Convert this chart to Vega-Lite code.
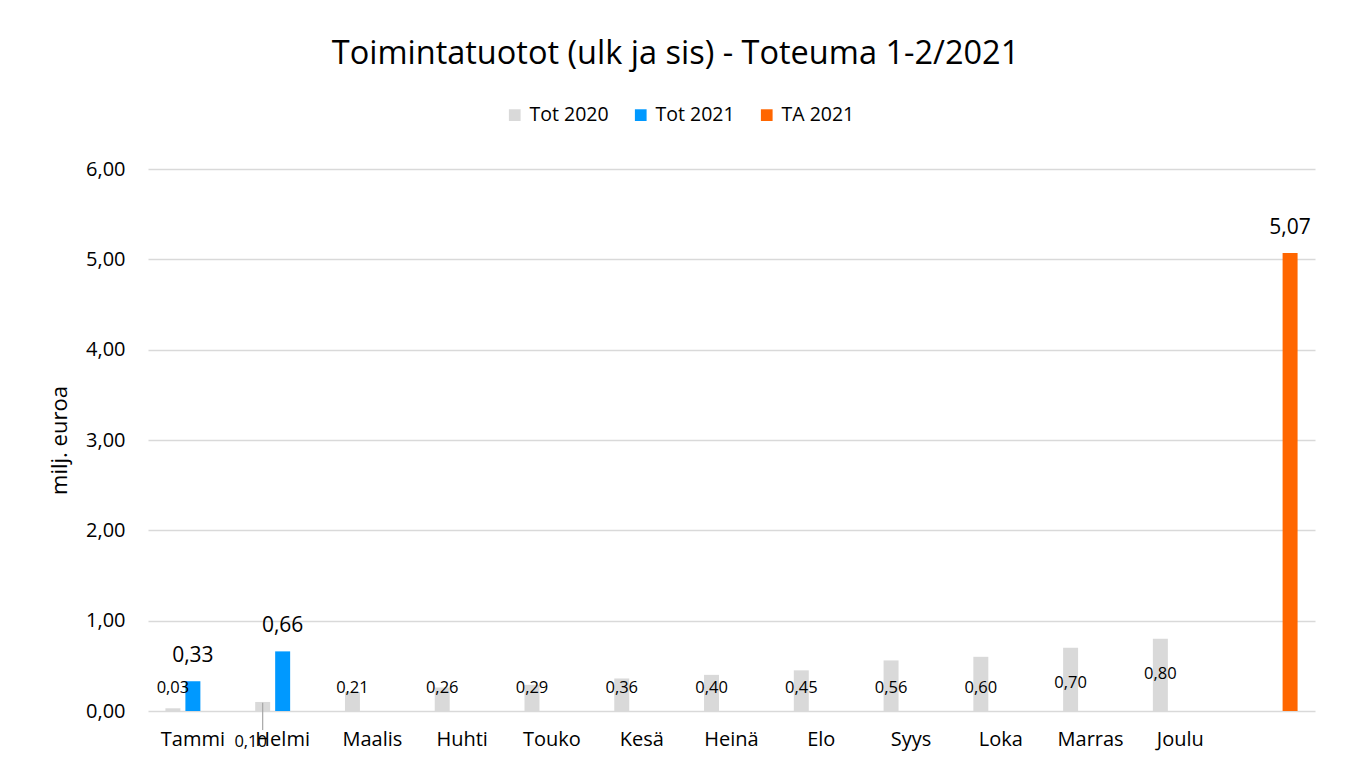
{
  "$schema": "https://vega.github.io/schema/vega-lite/v6.json",
  "width": 1167,
  "height": 542,
  "autosize": {"type": "none"},
  "padding": {"left": 148, "top": 169, "right": 34, "bottom": 56},
  "background": "white",
  "title": {
    "text": "Toimintatuotot (ulk ja sis) - Toteuma 1-2/2021",
    "anchor": "middle",
    "font": "Open Sans",
    "fontSize": 32.5,
    "fontWeight": "normal",
    "color": "#000000",
    "dx": -56,
    "offset": 35
  },
  "config": {
    "locale": {"number": {"decimal": ",", "thousands": " ", "grouping": [3], "currency": ["", " €"]}},
    "font": "Open Sans",
    "view": {"stroke": null}
  },
  "data": {
    "values": [
      {"month": "Tammi", "series": "Tot 2020", "value": 0.03},
      {"month": "Helmi", "series": "Tot 2020", "value": 0.10},
      {"month": "Maalis", "series": "Tot 2020", "value": 0.21},
      {"month": "Huhti", "series": "Tot 2020", "value": 0.26},
      {"month": "Touko", "series": "Tot 2020", "value": 0.29},
      {"month": "Kesä", "series": "Tot 2020", "value": 0.36},
      {"month": "Heinä", "series": "Tot 2020", "value": 0.40},
      {"month": "Elo", "series": "Tot 2020", "value": 0.45},
      {"month": "Syys", "series": "Tot 2020", "value": 0.56},
      {"month": "Loka", "series": "Tot 2020", "value": 0.60},
      {"month": "Marras", "series": "Tot 2020", "value": 0.70},
      {"month": "Joulu", "series": "Tot 2020", "value": 0.80},
      {"month": "Tammi", "series": "Tot 2021", "value": 0.33},
      {"month": "Helmi", "series": "Tot 2021", "value": 0.66},
      {"month": " ", "series": "TA 2021", "value": 5.07}
    ]
  },
  "encoding": {
    "x": {
      "field": "month",
      "type": "nominal",
      "sort": ["Tammi", "Helmi", "Maalis", "Huhti", "Touko", "Kesä", "Heinä", "Elo", "Syys", "Loka", "Marras", "Joulu", " "],
      "scale": {"paddingInner": 0.388, "paddingOuter": 0.194},
      "axis": {
        "title": null,
        "labelAngle": 0,
        "labelFontSize": 20,
        "labelColor": "#000000",
        "labelPadding": 18,
        "domain": false,
        "ticks": false,
        "grid": false
      }
    },
    "xOffset": {
      "field": "series",
      "type": "nominal",
      "sort": ["Tot 2020", "Tot 2021", "TA 2021"],
      "scale": {"domain": ["Tot 2020", "Tot 2021", "TA 2021"], "paddingInner": 0.25, "paddingOuter": 0}
    }
  },
  "layer": [
    {
      "mark": {"type": "bar"},
      "encoding": {
        "y": {
          "field": "value",
          "type": "quantitative",
          "scale": {"domain": [0, 6], "nice": false},
          "axis": {
            "title": "milj. euroa",
            "titleFontSize": 22,
            "titleFontWeight": "normal",
            "titleColor": "#000000",
            "titlePadding": 14,
            "values": [0, 1, 2, 3, 4, 5, 6],
            "format": ".2f",
            "labelFontSize": 20,
            "labelColor": "#000000",
            "labelPadding": 23,
            "domain": false,
            "ticks": false,
            "grid": true,
            "gridColor": "#d9d9d9",
            "gridWidth": 1.5
          }
        },
        "color": {
          "field": "series",
          "type": "nominal",
          "scale": {"domain": ["Tot 2020", "Tot 2021", "TA 2021"], "range": ["#d9d9d9", "#0099ff", "#ff6600"]},
          "legend": {
            "title": null,
            "orient": "none",
            "direction": "horizontal",
            "legendX": 357,
            "legendY": -64,
            "symbolType": "square",
            "symbolSize": 137,
            "symbolStrokeWidth": 0,
            "labelFontSize": 19.5,
            "labelColor": "#000000",
            "labelOffset": 5,
            "columnPadding": 22,
            "padding": 0
          }
        }
      }
    },
    {
      "transform": [{"filter": "datum.series == 'Tot 2020' && datum.value < 0.65 && datum.month != 'Helmi'"}],
      "mark": {"type": "text", "fontSize": 16.5, "color": "#000000", "baseline": "middle"},
      "encoding": {
        "y": {"datum": 0.25, "type": "quantitative"},
        "text": {"field": "value", "type": "quantitative", "format": ".2f"}
      }
    },
    {
      "transform": [{"filter": "datum.series == 'Tot 2020' && datum.value >= 0.65"}],
      "mark": {"type": "text", "fontSize": 16.5, "color": "#000000", "baseline": "middle", "dy": 35},
      "encoding": {
        "y": {"field": "value", "type": "quantitative"},
        "text": {"field": "value", "type": "quantitative", "format": ".2f"}
      }
    },
    {
      "transform": [{"filter": "datum.series == 'Tot 2020' && datum.month == 'Helmi'"}],
      "mark": {"type": "text", "fontSize": 16.5, "color": "#000000", "baseline": "middle", "dx": -12},
      "encoding": {
        "y": {"datum": -0.34, "type": "quantitative"},
        "text": {"field": "value", "type": "quantitative", "format": ".2f"}
      }
    },
    {
      "transform": [{"filter": "datum.series == 'Tot 2020' && datum.month == 'Helmi'"}],
      "mark": {"type": "rule", "color": "#a6a6a6", "strokeWidth": 1.2},
      "encoding": {
        "y": {"datum": 0.09, "type": "quantitative"},
        "y2": {"datum": -0.21}
      }
    },
    {
      "transform": [{"filter": "datum.series != 'Tot 2020'"}],
      "mark": {"type": "text", "fontSize": 21, "color": "#000000", "baseline": "middle", "dy": -25},
      "encoding": {
        "y": {"field": "value", "type": "quantitative"},
        "text": {"field": "value", "type": "quantitative", "format": ".2f"}
      }
    }
  ]
}
